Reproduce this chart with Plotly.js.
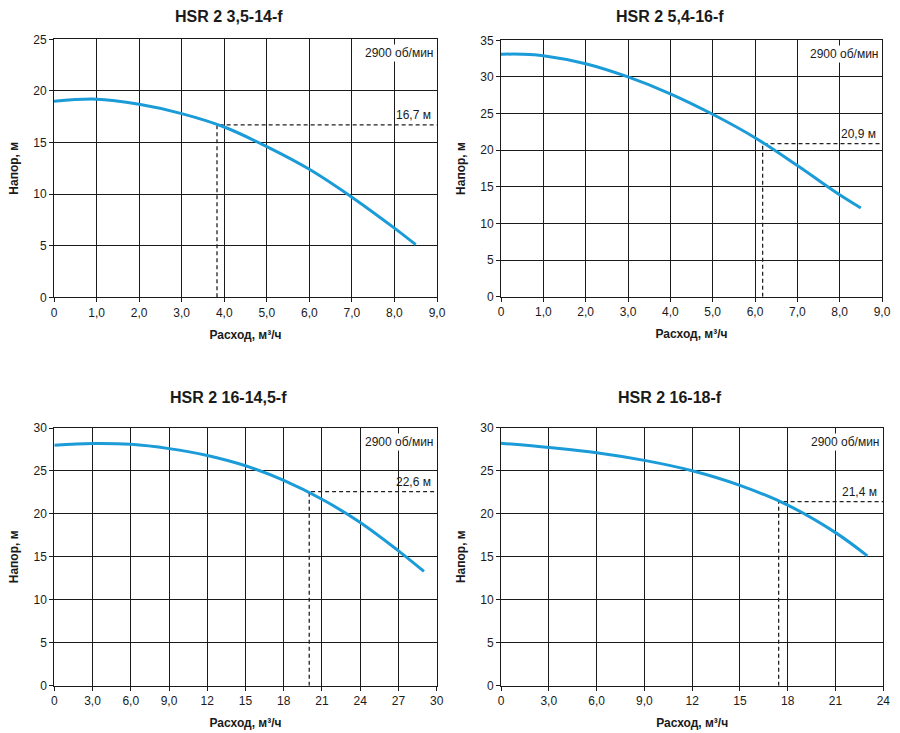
<!DOCTYPE html>
<html><head><meta charset="utf-8">
<script src="https://cdn.plot.ly/plotly-3.0.1.min.js"></script>
<style>html,body{margin:0;padding:0;background:#fff}</style>
</head><body><div id="chart" style="width:900px;height:733px"></div>
<script>
// Chart titles
const titles = ["HSR 2 3,5-14-f", "HSR 2 5,4-16-f", "HSR 2 16-14,5-f", "HSR 2 16-18-f"];
// Curve data (flow, head)
const q1 = [0, 1.0, 2.0, 3.0, 4.0, 5.0, 6.0, 7.0, 8.0, 8.5];
const h1 = [19.0, 19.2, 18.7, 17.8, 16.5, 14.6, 12.4, 9.7, 6.7, 5.1];
const q2 = [0, 0.5, 1.0, 2.0, 3.0, 4.0, 5.0, 6.0, 7.0, 8.0, 8.5];
const h2 = [33.1, 33.1, 32.9, 31.8, 30.0, 27.7, 24.9, 21.7, 17.9, 13.9, 12.1];
const q3 = [0, 3, 6, 9, 12, 15, 18, 21, 24, 27, 29];
const h3 = [28.0, 28.2, 28.1, 27.6, 26.8, 25.6, 23.9, 21.7, 19.0, 15.7, 13.3];
const q4 = [0, 3, 6, 9, 12, 15, 18, 21, 23];
const h4 = [28.2, 27.7, 27.1, 26.2, 25.0, 23.3, 21.0, 17.8, 15.1];
// Operating points
const opQ = [3.83, 6.18, 20.0, 17.43];
const opH = [16.7, 20.9, 22.6, 21.4];
const opLabels = ["16,7 м", "20,9 м", "22,6 м", "21,4 м"];
// Axis ranges
const xMax = [9, 9, 30, 24];
const yMax = [25, 35, 30, 30];
// Tick labels
const xTickVals12 = [0, 1, 2, 3, 4, 5, 6, 7, 8, 9];
const xTickText12 = ["0", "1,0", "2,0", "3,0", "4,0", "5,0", "6,0", "7,0", "8,0", "9,0"];
const xTickVals3 = [0, 3, 6, 9, 12, 15, 18, 21, 24, 27, 30];
const xTickText3 = ["0", "3,0", "6,0", "9,0", "12", "15", "18", "21", "24", "27", "30"];
const xTickVals4 = [0, 3, 6, 9, 12, 15, 18, 21, 24];
const xTickText4 = ["0", "3,0", "6,0", "9,0", "12", "15", "18", "21", "24"];
const speedLabel = "2900 об/мин";
const xTitle = "Расход, м³/ч";
const yTitle = "Напор, м";

const Q = [q1, q2, q3, q4], H = [h1, h2, h3, h4];
const XTV = [xTickVals12, xTickVals12, xTickVals3, xTickVals4];
const XTT = [xTickText12, xTickText12, xTickText3, xTickText4];

const W = 900, Hh = 733;
const xDom = [[54/W, 437/W], [501/W, 882/W], [54.3/W, 436.7/W], [501/W, 883.3/W]];
const yDom = [[1-297.3/Hh, 1-39.3/Hh], [1-296.7/Hh, 1-40.3/Hh], [1-685.7/Hh, 1-428/Hh], [1-685.7/Hh, 1-427.7/Hh]];

const FONT = "Liberation Sans, Arial, sans-serif";
const blue = "#1b9bd7";
const traces = [];
const layout = {
  width: W, height: Hh, margin: {l:0, r:0, t:0, b:0},
  paper_bgcolor: "#fff", plot_bgcolor: "#fff", showlegend: false,
  font: {family: FONT, size: 12, color: "#1a1a1a"},
  annotations: []
};
for (let i = 0; i < 4; i++) {
  const s = i === 0 ? "" : String(i + 1);
  const xa = "x" + s, ya = "y" + s;
  traces.push({x: [opQ[i], opQ[i], xMax[i]], y: [0, opH[i], opH[i]], xaxis: xa, yaxis: ya,
    mode: "lines", line: {color: "#222", width: 1.3, dash: "4px,3px"}, hoverinfo: "skip"});
  traces.push({x: Q[i], y: H[i], xaxis: xa, yaxis: ya, mode: "lines",
    line: {color: blue, width: 3, shape: "spline", smoothing: 1}});
  const ax = {
    domain: xDom[i], range: [0, xMax[i]], tickvals: XTV[i], ticktext: XTT[i],
    showgrid: true, gridcolor: "#1a1a1a", gridwidth: 1, zeroline: false,
    showline: true, linecolor: "#1a1a1a", linewidth: 1, mirror: true,
    ticks: "outside", ticklen: 4, tickcolor: "#1a1a1a", anchor: ya,
    tickfont: {size: 12, color: "#1a1a1a"},
    title: {text: xTitle, font: {size: 12, weight: "bold", color: "#1a1a1a"}, standoff: 11},
    fixedrange: true
  };
  const ay = {
    domain: yDom[i], range: [0, yMax[i]], dtick: 5, tick0: 0,
    showgrid: true, gridcolor: "#1a1a1a", gridwidth: 1, zeroline: false,
    showline: true, linecolor: "#1a1a1a", linewidth: 1, mirror: true,
    ticks: "outside", ticklen: 4, tickcolor: "#1a1a1a", anchor: xa,
    tickfont: {size: 12, color: "#1a1a1a"},
    title: {text: yTitle, font: {size: 12, weight: "bold", color: "#1a1a1a"}, standoff: 12},
    fixedrange: true
  };
  layout["xaxis" + s] = ax;
  layout["yaxis" + s] = ay;
  const cx = i % 2 === 0 ? 229 : 670;
  const ty = i < 2 ? 16 : 397;
  layout.annotations.push({text: "<b>" + titles[i] + "</b>", xref: "paper", yref: "paper",
    x: cx / W, y: 1 - ty / Hh, xanchor: "center", yanchor: "middle", showarrow: false,
    font: {size: 16, color: "#1a1a1a"}});
  layout.annotations.push({text: speedLabel, xref: xa + " domain", yref: ya + " domain",
    x: 0.997, y: 0.945, xanchor: "right", yanchor: "middle", showarrow: false,
    bgcolor: "#fff", borderpad: 1, font: {size: 12, color: "#1a1a1a"}});
  layout.annotations.push({text: opLabels[i], xref: xa + " domain", yref: ya,
    x: 0.99, y: opH[i], xanchor: "right", yanchor: "bottom", yshift: 1, showarrow: false,
    font: {size: 12, color: "#1a1a1a"}});
}
Plotly.newPlot("chart", traces, layout, {staticPlot: true});
</script></body></html>
